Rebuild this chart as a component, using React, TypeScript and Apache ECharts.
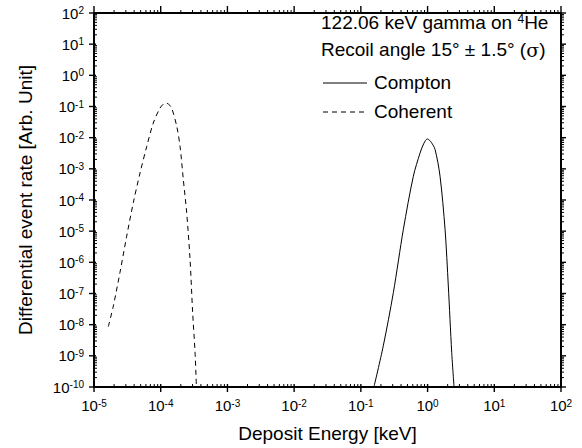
import React, { useEffect, useRef } from "react";
import * as echarts from "echarts";

const FONT = "'Liberation Sans', Arial, sans-serif";

// Coherent scattering (dashed)
const coherentX = [1.64e-5, 1.95e-5, 2.45e-5, 3.09e-5, 3.88e-5, 4.9e-5, 6.17e-5, 7.74e-5, 9.75e-5, 1.1e-4, 1.2e-4, 1.32e-4, 1.46e-4, 1.74e-4, 1.95e-4, 2.18e-4, 2.45e-4, 2.75e-4, 3.01e-4, 3.27e-4, 3.43e-4];
const coherentY = [8.7e-9, 4.0e-8, 4.7e-7, 6.9e-6, 8.1e-5, 7.4e-4, 5.2e-3, 0.0295, 0.089, 0.12, 0.129, 0.117, 0.089, 0.0229, 5.2e-3, 4.6e-4, 3.9e-5, 1.26e-6, 2.5e-8, 1.3e-9, 1e-10];

// Compton scattering (solid)
const comptonX = [0.157, 0.217, 0.307, 0.434, 0.612, 0.771, 0.881, 0.993, 1.135, 1.294, 1.538, 1.828, 2.046, 2.301, 2.495];
const comptonY = [1e-10, 2.1e-9, 1.07e-7, 1.15e-5, 5.8e-4, 3.2e-3, 6.6e-3, 9.1e-3, 7.1e-3, 4.2e-3, 5.8e-4, 1.15e-5, 1.74e-7, 1.29e-9, 1e-10];

const X_MIN = 1e-5;
const X_MAX = 1e2;
const Y_MIN = 1e-10;
const Y_MAX = 1e2;

// Tick decades and minor multipliers
const minorMultipliers = [2, 3, 4, 5, 6, 7, 8, 9];
const xDecades = [-5, -4, -3, -2, -1, 0, 1, 2];
const yDecades = [-10, -9, -8, -7, -6, -5, -4, -3, -2, -1, 0, 1, 2];

export default function App() {
  const ref = useRef<HTMLDivElement>(null);

  useEffect(() => {
    if (!ref.current) return;
    const chart = echarts.init(ref.current, null, { renderer: "svg" });

    const fmt = (v: number) => {
      const e = Math.round(Math.log10(v));
      return `{b|10}{s|${e}}`;
    };
    const mkRich = () => ({
      b: { fontSize: 15, fontFamily: FONT, color: "#000" },
      s: { fontSize: 10, fontFamily: FONT, color: "#000", verticalAlign: "top" },
    });

    const coherentData = coherentX.map((x, i) => [x, coherentY[i]]);
    const comptonData = comptonX.map((x, i) => [x, comptonY[i]]);

    chart.setOption({
      animation: false,
      grid: { left: 94, top: 13, width: 467, height: 375 },
      xAxis: [
        {
          type: "log",
          min: X_MIN,
          max: X_MAX,
          interval: 1,
          position: "bottom",
          name: "Deposit Energy [keV]",
          nameLocation: "middle",
          nameGap: 37,
          nameTextStyle: { fontSize: 19, fontFamily: FONT, color: "#000" },
          axisLine: { show: true, lineStyle: { color: "#000", width: 2 } },
          axisTick: { show: false },
          axisLabel: { margin: 11, formatter: fmt, rich: mkRich() },
          splitLine: { show: false },
        },
      ],
      yAxis: [
        {
          type: "log",
          min: Y_MIN,
          max: Y_MAX,
          interval: 1,
          position: "left",
          name: "Differential event rate [Arb. Unit]",
          nameLocation: "middle",
          nameGap: 59,
          nameTextStyle: { fontSize: 19, fontFamily: FONT, color: "#000" },
          axisLine: { show: true, lineStyle: { color: "#000", width: 2 } },
          axisTick: { show: false },
          axisLabel: { margin: 10, formatter: fmt, rich: mkRich() },
          splitLine: { show: false },
        },
      ],
      series: [
        {
          name: "Compton",
          type: "line",
          data: comptonData,
          smooth: 0.3,
          symbol: "none",
          lineStyle: { color: "#000", width: 1, type: "solid" },
          silent: true,
        },
        {
          name: "Coherent",
          type: "line",
          data: coherentData,
          smooth: 0.3,
          symbol: "none",
          lineStyle: { color: "#000", width: 1, type: [5, 4] },
          silent: true,
        },
      ],
    });

    // Axis frame and log ticks, positioned through the chart's own log scales
    const px = (v: number) => chart.convertToPixel({ xAxisIndex: 0 }, v) as unknown as number;
    const py = (v: number) => chart.convertToPixel({ yAxisIndex: 0 }, v) as unknown as number;
    const xl = px(X_MIN);
    const xr = px(X_MAX);
    const yb = py(Y_MIN);
    const yt = py(Y_MAX);

    const seg = (x1: number, y1: number, x2: number, y2: number, w: number) => ({
      type: "line",
      silent: true,
      z: 100,
      shape: { x1, y1, x2, y2 },
      style: { stroke: "#000", lineWidth: w },
    });

    const ticks: any[] = [];
    xDecades.forEach((d, i) => {
      const x = px(Math.pow(10, d));
      ticks.push(seg(x, yb - 3, x, yb + 5, 1.4));
      ticks.push(seg(x, yt, x, yt - 7, 1.4));
      if (i < xDecades.length - 1) {
        minorMultipliers.forEach((m) => {
          const xm = px(m * Math.pow(10, d));
          ticks.push(seg(xm, yb, xm, yb - 3, 1));
          ticks.push(seg(xm, yt, xm, yt - 3, 1));
        });
      }
    });
    yDecades.forEach((d, i) => {
      const y = py(Math.pow(10, d));
      ticks.push(seg(xl - 5, y, xl + 2, y, 1.4));
      ticks.push(seg(xr, y, xr + 5, y, 1.4));
      if (i < yDecades.length - 1) {
        minorMultipliers.forEach((m) => {
          const ym = py(m * Math.pow(10, d));
          ticks.push(seg(xl, ym, xl + 3, ym, 1));
          ticks.push(seg(xr, ym, xr + 3, ym, 1));
        });
      }
    });

    const frame = [
      seg(xl, yt, xr, yt, 2),
      seg(xl, yb, xr, yb, 2),
      seg(xl, yt, xl, yb, 2),
      seg(xr, yt, xr, yb, 2),
    ];

    const textStyleA = { fontSize: 19, fontFamily: FONT, fill: "#000" };

    chart.setOption({
      graphic: [
        {
          type: "text",
          left: 321,
          top: 13,
          style: {
            text: "{a|122.06 keV gamma on }{s|4}{a|He}",
            rich: {
              a: { fontSize: 19, fontFamily: FONT, fill: "#000" },
              s: { fontSize: 12, fontFamily: FONT, fill: "#000", verticalAlign: "top" },
            },
          },
        },
        {
          type: "text",
          left: 321,
          top: 40,
          style: {
            text: "{a|Recoil angle 15° ± 1.5° (}{g|σ}{a|)}",
            rich: {
              a: { fontSize: 19, fontFamily: FONT, fill: "#000" },
              g: { fontSize: 19, fontFamily: "'DejaVu Serif', 'Liberation Serif', serif", fill: "#000" },
            },
          },
        },
        { type: "line", shape: { x1: 323, y1: 83, x2: 367, y2: 83 }, style: { stroke: "#000", lineWidth: 1 } },
        { type: "text", left: 374, top: 73, style: { text: "Compton", ...textStyleA } },
        { type: "line", shape: { x1: 323, y1: 112, x2: 367, y2: 112 }, style: { stroke: "#000", lineWidth: 1, lineDash: [5, 4] } },
        { type: "text", left: 374, top: 102, style: { text: "Coherent", ...textStyleA } },
        ...frame,
        ...ticks,
      ],
    });

    return () => chart.dispose();
  }, []);

  return (
    <div style={{ position: "absolute", left: 0, top: 0, width: 582, height: 448, background: "#fff" }}>
      <div ref={ref} style={{ width: 582, height: 448 }} />
    </div>
  );
}
